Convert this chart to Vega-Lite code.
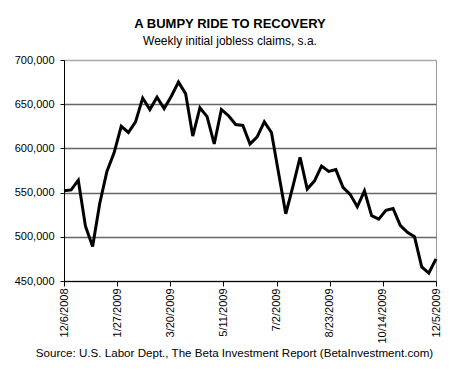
{
  "$schema": "https://vega.github.io/schema/vega-lite/v6.json",
  "width": 372,
  "height": 221,
  "autosize": {"type": "none"},
  "padding": {"left": 64, "top": 60, "right": 24, "bottom": 89},
  "background": "white",
  "config": {
    "font": "Liberation Sans",
    "view": {"stroke": "#999999", "strokeWidth": 1}
  },
  "title": {
    "text": "A BUMPY RIDE TO RECOVERY",
    "subtitle": "Weekly initial jobless claims, s.a.",
    "anchor": "middle",
    "frame": "group",
    "dx": -20,
    "offset": 7,
    "fontSize": 13,
    "fontWeight": "bold",
    "color": "black",
    "subtitleFontSize": 12,
    "subtitleColor": "black",
    "subtitlePadding": 5,
    "font": "Liberation Sans",
    "subtitleFont": "Liberation Sans"
  },
  "data": {
    "values": [
      {"date": "2008-12-06", "claims": 552000},
      {"date": "2008-12-13", "claims": 553000},
      {"date": "2008-12-20", "claims": 564000},
      {"date": "2008-12-27", "claims": 512000},
      {"date": "2009-01-03", "claims": 489000},
      {"date": "2009-01-10", "claims": 538000},
      {"date": "2009-01-17", "claims": 574000},
      {"date": "2009-01-24", "claims": 595000},
      {"date": "2009-01-31", "claims": 625000},
      {"date": "2009-02-07", "claims": 618000},
      {"date": "2009-02-14", "claims": 630000},
      {"date": "2009-02-21", "claims": 657000},
      {"date": "2009-02-28", "claims": 644000},
      {"date": "2009-03-07", "claims": 658000},
      {"date": "2009-03-14", "claims": 645000},
      {"date": "2009-03-21", "claims": 659000},
      {"date": "2009-03-28", "claims": 675000},
      {"date": "2009-04-04", "claims": 662000},
      {"date": "2009-04-11", "claims": 614000},
      {"date": "2009-04-18", "claims": 646000},
      {"date": "2009-04-25", "claims": 636000},
      {"date": "2009-05-02", "claims": 605000},
      {"date": "2009-05-09", "claims": 644000},
      {"date": "2009-05-16", "claims": 637000},
      {"date": "2009-05-23", "claims": 627000},
      {"date": "2009-05-30", "claims": 626000},
      {"date": "2009-06-06", "claims": 605000},
      {"date": "2009-06-13", "claims": 613000},
      {"date": "2009-06-20", "claims": 630000},
      {"date": "2009-06-27", "claims": 618000},
      {"date": "2009-07-04", "claims": 572000},
      {"date": "2009-07-11", "claims": 526000},
      {"date": "2009-07-18", "claims": 557000},
      {"date": "2009-07-25", "claims": 590000},
      {"date": "2009-08-01", "claims": 554000},
      {"date": "2009-08-08", "claims": 563000},
      {"date": "2009-08-15", "claims": 580000},
      {"date": "2009-08-22", "claims": 574000},
      {"date": "2009-08-29", "claims": 576000},
      {"date": "2009-09-05", "claims": 556000},
      {"date": "2009-09-12", "claims": 548000},
      {"date": "2009-09-19", "claims": 534000},
      {"date": "2009-09-26", "claims": 552000},
      {"date": "2009-10-03", "claims": 524000},
      {"date": "2009-10-10", "claims": 520000},
      {"date": "2009-10-17", "claims": 530000},
      {"date": "2009-10-24", "claims": 532000},
      {"date": "2009-10-31", "claims": 513000},
      {"date": "2009-11-07", "claims": 505000},
      {"date": "2009-11-14", "claims": 500000},
      {"date": "2009-11-21", "claims": 466000},
      {"date": "2009-11-28", "claims": 459000},
      {"date": "2009-12-05", "claims": 475000}
    ]
  },
  "mark": {"type": "line", "color": "black", "strokeWidth": 3, "strokeJoin": "miter"},
  "encoding": {
    "x": {
      "field": "date",
      "type": "temporal",
      "scale": {
        "type": "utc",
        "nice": false,
        "domain": [
          {"year": 2008, "month": 12, "date": 6, "utc": true},
          {"year": 2009, "month": 12, "date": 5, "utc": true}
        ]
      },
      "axis": {
        "values": [
          {"year": 2008, "month": 12, "date": 6, "utc": true},
          {"year": 2009, "month": 1, "date": 27, "utc": true},
          {"year": 2009, "month": 3, "date": 20, "utc": true},
          {"year": 2009, "month": 5, "date": 11, "utc": true},
          {"year": 2009, "month": 7, "date": 2, "utc": true},
          {"year": 2009, "month": 8, "date": 23, "utc": true},
          {"year": 2009, "month": 10, "date": 14, "utc": true},
          {"year": 2009, "month": 12, "date": 5, "utc": true}
        ],
        "format": "%-m/%-d/%Y",
        "labelAngle": -90,
        "labelFontSize": 11,
        "labelColor": "black",
        "labelPadding": 2,
        "labelOverlap": false,
        "labelFlush": false,
        "grid": false,
        "tickSize": 5,
        "tickColor": "black",
        "domainColor": "black",
        "title": "Source: U.S. Labor Dept., The Beta Investment Report (BetaInvestment.com)",
        "titleFontSize": 11.6,
        "titleFontWeight": "normal",
        "titleColor": "black",
        "titlePadding": 4,
        "titleX": 170
      }
    },
    "y": {
      "field": "claims",
      "type": "quantitative",
      "scale": {"domain": [450000, 700000], "nice": false, "zero": false},
      "axis": {
        "values": [450000, 500000, 550000, 600000, 650000, 700000],
        "format": ",d",
        "labelFontSize": 11,
        "labelColor": "black",
        "labelPadding": 6,
        "tickSize": 4,
        "tickColor": "black",
        "domainColor": "black",
        "grid": true,
        "gridColor": {"condition": {"test": "datum.value == 700000", "value": "#aaaaaa"}, "value": "#666666"},
        "gridWidth": 1.5,
        "title": null
      }
    }
  }
}
